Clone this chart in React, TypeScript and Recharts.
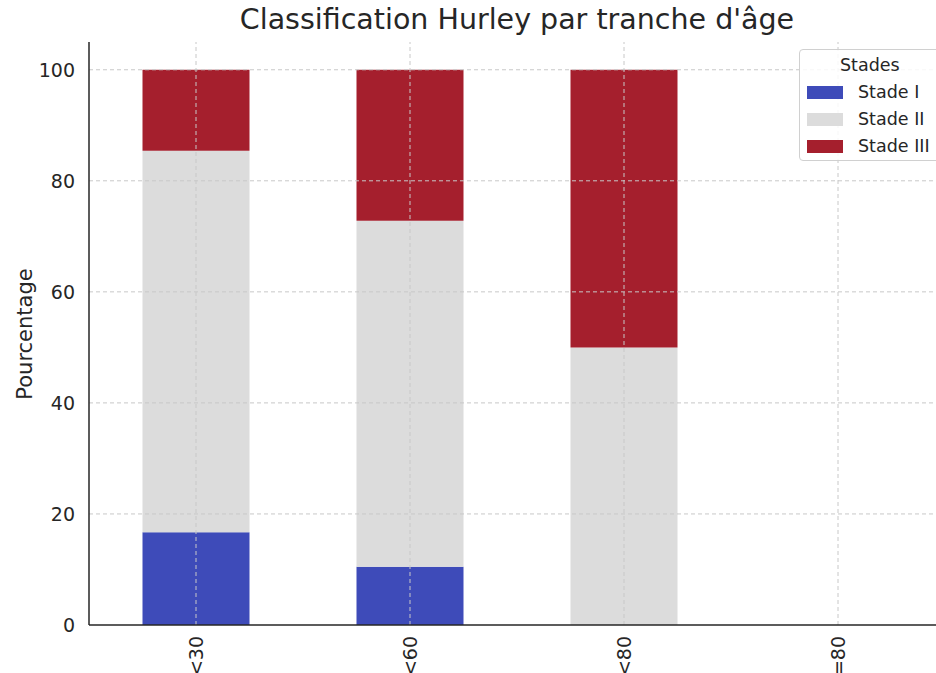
import { BarChart, Bar, XAxis, YAxis, ReferenceLine } from "recharts";

const categories = ["<30", "<60", "<80", ">=80"];
const stadeI = [16.7, 10.5, 0, 0];
const stadeII = [68.7, 62.3, 50, 0];
const stadeIII = [14.6, 27.2, 50, 0];
const yTicks = [0, 20, 40, 60, 80, 100];

const series = [
  { key: "Stade I", values: stadeI, color: "#3e4bb9" },
  { key: "Stade II", values: stadeII, color: "#dcdcdc" },
  { key: "Stade III", values: stadeIII, color: "#a51f2d" },
];

const data = categories.map((c, i) => {
  const row: Record<string, string | number> = { age: c };
  series.forEach((s) => (row[s.key] = s.values[i]));
  return row;
});

const font = "'DejaVu Sans', sans-serif";
const gridStyle = { stroke: "#c8c8c8", strokeDasharray: "4 3" };

function RotatedTick(props: any) {
  const { x, y, payload } = props;
  return (
    <text
      x={0}
      y={0}
      transform={`translate(${x + 7},${y + 3}) rotate(-90)`}
      textAnchor="end"
      fontSize={19}
      fill="#262626"
      fontFamily={font}
    >
      {payload.value}
    </text>
  );
}

function StadesLegend() {
  return (
    <div
      style={{
        position: "absolute",
        left: 799,
        top: 49,
        width: 160,
        height: 110,
        border: "1px solid #d0d0d0",
        borderRadius: 4,
        background: "rgba(255,255,255,0.85)",
        fontFamily: font,
        color: "#262626",
        fontSize: 17.5,
      }}
    >
      <div style={{ position: "absolute", left: 40, top: 5 }}>Stades</div>
      {series.map((s, i) => (
        <div key={s.key} style={{ position: "absolute", left: 7, top: 32 + i * 27, display: "flex", alignItems: "center" }}>
          <span style={{ display: "inline-block", width: 36, height: 13, background: s.color, marginRight: 15 }} />
          <span>{s.key}</span>
        </div>
      ))}
    </div>
  );
}

export default function App() {
  return (
    <div style={{ position: "fixed", left: 0, top: 0, width: 936, height: 673, overflow: "hidden", background: "#fff" }}>
      <div
        style={{
          position: "absolute",
          left: 89,
          width: 856,
          top: 3,
          textAlign: "center",
          fontFamily: font,
          fontSize: 28.5,
          color: "#262626",
        }}
      >
        Classification Hurley par tranche d'âge
      </div>
      <div
        style={{
          position: "absolute",
          left: 25,
          top: 334,
          transform: "translate(-50%,-50%) rotate(-90deg)",
          fontFamily: font,
          fontSize: 21,
          color: "#262626",
          whiteSpace: "nowrap",
        }}
      >
        Pourcentage
      </div>
      <div style={{ position: "absolute", left: 0, top: 0 }}>
        <BarChart
          width={960}
          height={700}
          data={data}
          margin={{ top: 42, right: 15, left: 29, bottom: 15 }}
          barCategoryGap="25%"
        >
          <XAxis
            dataKey="age"
            tick={<RotatedTick />}
            tickLine={false}
            axisLine={{ stroke: "#262626", strokeWidth: 1.5 }}
            height={60}
            interval={0}
          />
          <YAxis
            domain={[0, 105]}
            ticks={yTicks}
            width={60}
            tickLine={false}
            axisLine={{ stroke: "#262626", strokeWidth: 1.5 }}
            tick={{ fontSize: 19, fill: "#262626", fontFamily: font }}
            tickMargin={8}
          />
          {series.map((s) => (
            <Bar key={s.key} dataKey={s.key} stackId="a" fill={s.color} isAnimationActive={false} />
          ))}
          {yTicks.slice(1).map((v) => (
            <ReferenceLine key={`y${v}`} y={v} {...gridStyle} />
          ))}
          {categories.map((c) => (
            <ReferenceLine key={`x${c}`} x={c} {...gridStyle} />
          ))}
        </BarChart>
      </div>
      <StadesLegend />
    </div>
  );
}
